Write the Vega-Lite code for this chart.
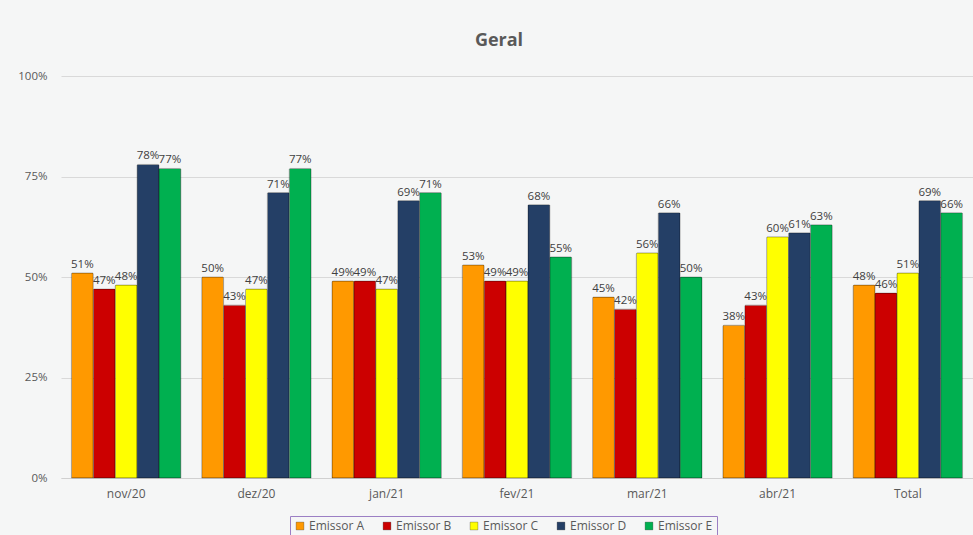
{
  "$schema": "https://vega.github.io/schema/vega-lite/v6.json",
  "autosize": "none",
  "width": 912,
  "height": 402,
  "padding": {"left": 61, "top": 76, "right": 0, "bottom": 57},
  "background": "#f5f6f6",
  "title": {"text": "Geral", "font": "Open Sans", "fontSize": 18, "fontWeight": "bold", "color": "#595959", "offset": 20, "anchor": "middle", "dx": -18},
  "config": {
    "view": {"stroke": null},
    "font": "Open Sans"
  },
  "data": {"values": [
    {"mes": "nov/20", "emissor": "Emissor A", "valor": 0.51},
    {"mes": "nov/20", "emissor": "Emissor B", "valor": 0.47},
    {"mes": "nov/20", "emissor": "Emissor C", "valor": 0.48},
    {"mes": "nov/20", "emissor": "Emissor D", "valor": 0.78},
    {"mes": "nov/20", "emissor": "Emissor E", "valor": 0.77},
    {"mes": "dez/20", "emissor": "Emissor A", "valor": 0.50},
    {"mes": "dez/20", "emissor": "Emissor B", "valor": 0.43},
    {"mes": "dez/20", "emissor": "Emissor C", "valor": 0.47},
    {"mes": "dez/20", "emissor": "Emissor D", "valor": 0.71},
    {"mes": "dez/20", "emissor": "Emissor E", "valor": 0.77},
    {"mes": "jan/21", "emissor": "Emissor A", "valor": 0.49},
    {"mes": "jan/21", "emissor": "Emissor B", "valor": 0.49},
    {"mes": "jan/21", "emissor": "Emissor C", "valor": 0.47},
    {"mes": "jan/21", "emissor": "Emissor D", "valor": 0.69},
    {"mes": "jan/21", "emissor": "Emissor E", "valor": 0.71},
    {"mes": "fev/21", "emissor": "Emissor A", "valor": 0.53},
    {"mes": "fev/21", "emissor": "Emissor B", "valor": 0.49},
    {"mes": "fev/21", "emissor": "Emissor C", "valor": 0.49},
    {"mes": "fev/21", "emissor": "Emissor D", "valor": 0.68},
    {"mes": "fev/21", "emissor": "Emissor E", "valor": 0.55},
    {"mes": "mar/21", "emissor": "Emissor A", "valor": 0.45},
    {"mes": "mar/21", "emissor": "Emissor B", "valor": 0.42},
    {"mes": "mar/21", "emissor": "Emissor C", "valor": 0.56},
    {"mes": "mar/21", "emissor": "Emissor D", "valor": 0.66},
    {"mes": "mar/21", "emissor": "Emissor E", "valor": 0.50},
    {"mes": "abr/21", "emissor": "Emissor A", "valor": 0.38},
    {"mes": "abr/21", "emissor": "Emissor B", "valor": 0.43},
    {"mes": "abr/21", "emissor": "Emissor C", "valor": 0.60},
    {"mes": "abr/21", "emissor": "Emissor D", "valor": 0.61},
    {"mes": "abr/21", "emissor": "Emissor E", "valor": 0.63},
    {"mes": "Total", "emissor": "Emissor A", "valor": 0.48},
    {"mes": "Total", "emissor": "Emissor B", "valor": 0.46},
    {"mes": "Total", "emissor": "Emissor C", "valor": 0.51},
    {"mes": "Total", "emissor": "Emissor D", "valor": 0.69},
    {"mes": "Total", "emissor": "Emissor E", "valor": 0.66}
  ]},
  "encoding": {
    "x": {"field": "mes", "type": "nominal", "sort": null,
      "scale": {"paddingInner": 0.16, "paddingOuter": 0.08},
      "axis": {"title": null, "labelAngle": 0, "labelFontSize": 12, "labelColor": "#595959", "labelPadding": 10, "ticks": false, "domainColor": "#d0d0d0", "domainWidth": 1}},
    "xOffset": {"field": "emissor", "type": "nominal"},
    "y": {"field": "valor", "type": "quantitative",
      "scale": {"domain": [0, 1], "nice": false},
      "axis": {"title": null, "format": ".0%", "values": [0, 0.25, 0.5, 0.75, 1], "labelFontSize": 11.5, "labelColor": "#595959", "labelPadding": 14, "ticks": false, "domain": false, "gridColor": "#d9d9d9"}}
  },
  "layer": [
    {
      "mark": {"type": "bar", "stroke": "#00000040", "strokeWidth": 1, "cornerRadiusTopLeft": 1, "cornerRadiusTopRight": 1},
      "encoding": {
        "color": {"field": "emissor", "type": "nominal",
          "scale": {"domain": ["Emissor A", "Emissor B", "Emissor C", "Emissor D", "Emissor E"], "range": ["#FF9900", "#CC0000", "#FFFF00", "#243F66", "#00B050"]},
          "legend": {"title": null, "orient": "none", "legendX": 229, "legendY": 440, "direction": "horizontal", "symbolType": "square", "symbolSize": 60, "labelFontSize": 12, "labelColor": "#595959", "labelOffset": 3, "columnPadding": 16, "padding": 4, "strokeColor": "#9b7fc4", "fillColor": "#f5f6f6", "symbolStrokeColor": "#00000040", "symbolStrokeWidth": 1}}
      }
    },
    {
      "mark": {"type": "text", "dy": -8, "fontSize": 11.5, "color": "#404040"},
      "encoding": {"text": {"field": "valor", "type": "quantitative", "format": ".0%"}}
    }
  ]
}
